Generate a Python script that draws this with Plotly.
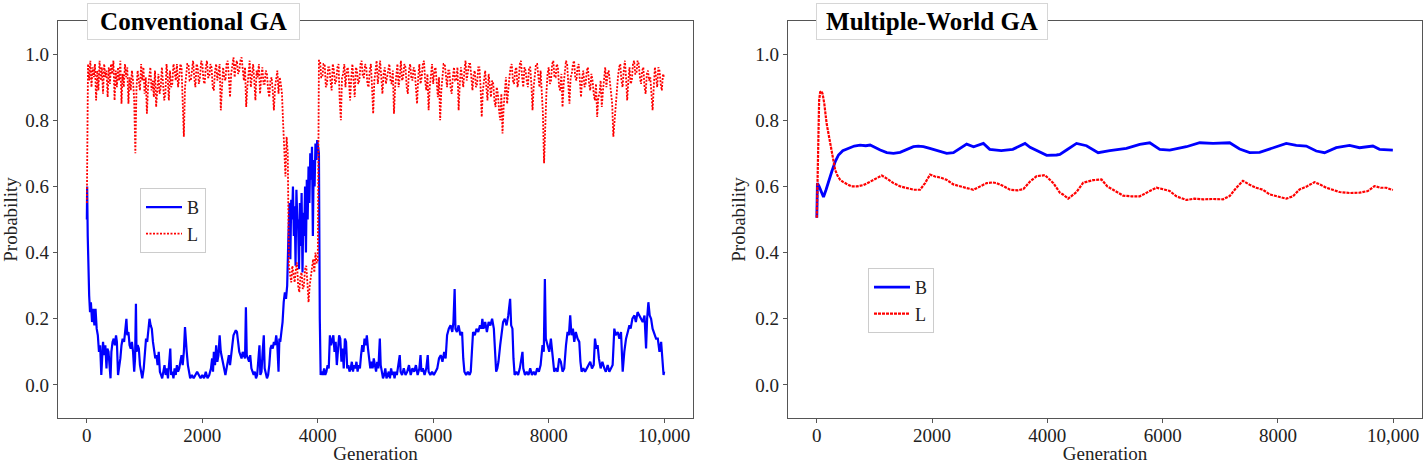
import plotly.graph_objects as go

# ---------------- data ----------------
# Conventional GA, B (generation, probability)
conv_B_pts = [
    (0, 0.50), (5, 0.60), (15, 0.45), (25, 0.32), (40, 0.27), (55, 0.22), (70, 0.25), (90, 0.19),
    (110, 0.23), (130, 0.18), (150, 0.23), (170, 0.17), (190, 0.15), (210, 0.10), (230, 0.12),
    (250, 0.03), (265, 0.08), (280, 0.13), (300, 0.09), (320, 0.12), (340, 0.05), (355, 0.11),
    (375, 0.10), (395, 0.03), (410, 0.02), (425, 0.10), (445, 0.13), (465, 0.14), (485, 0.12),
    (505, 0.15), (520, 0.13), (540, 0.03), (560, 0.05), (580, 0.08), (600, 0.12), (620, 0.14),
    (645, 0.13), (665, 0.17), (685, 0.20), (700, 0.15), (720, 0.16), (740, 0.12), (760, 0.11),
    (780, 0.13), (800, 0.10), (820, 0.04), (835, 0.08), (850, 0.245), (860, 0.10), (880, 0.12),
    (900, 0.11), (920, 0.06), (940, 0.04), (960, 0.02), (985, 0.05), (1005, 0.10), (1025, 0.14),
    (1045, 0.13), (1065, 0.18), (1085, 0.20), (1105, 0.18), (1125, 0.17), (1145, 0.13),
    (1165, 0.11), (1185, 0.08), (1205, 0.09), (1225, 0.06), (1245, 0.10), (1265, 0.04),
    (1285, 0.03), (1305, 0.02), (1325, 0.04), (1345, 0.06), (1365, 0.03), (1385, 0.05),
    (1405, 0.02), (1425, 0.08), (1445, 0.11), (1460, 0.03), (1480, 0.04), (1500, 0.02),
    (1520, 0.05), (1540, 0.03), (1560, 0.06), (1580, 0.04), (1600, 0.05), (1620, 0.07),
    (1640, 0.09), (1660, 0.06), (1680, 0.10), (1700, 0.175), (1715, 0.12), (1730, 0.10),
    (1750, 0.06), (1770, 0.04), (1790, 0.02), (1820, 0.03), (1850, 0.02), (1880, 0.03),
    (1910, 0.04), (1940, 0.03), (1970, 0.02), (2000, 0.03), (2030, 0.02), (2060, 0.04),
    (2090, 0.02), (2120, 0.03), (2150, 0.05), (2170, 0.08), (2185, 0.04), (2200, 0.10),
    (2220, 0.06), (2240, 0.12), (2260, 0.07), (2280, 0.09), (2300, 0.15), (2320, 0.10),
    (2340, 0.08), (2360, 0.06), (2380, 0.04), (2400, 0.03), (2420, 0.05), (2440, 0.07),
    (2460, 0.09), (2480, 0.06), (2500, 0.10), (2520, 0.12), (2540, 0.15), (2560, 0.16),
    (2580, 0.165), (2600, 0.16), (2620, 0.13), (2640, 0.10), (2660, 0.09), (2680, 0.08),
    (2700, 0.10), (2720, 0.09), (2740, 0.08), (2755, 0.235), (2770, 0.09), (2790, 0.08),
    (2810, 0.07), (2830, 0.09), (2850, 0.05), (2870, 0.04), (2890, 0.03), (2910, 0.04),
    (2930, 0.02), (2950, 0.03), (2970, 0.08), (2990, 0.12), (3005, 0.03), (3025, 0.04),
    (3045, 0.10), (3065, 0.15), (3080, 0.05), (3100, 0.03), (3120, 0.02), (3140, 0.03),
    (3160, 0.06), (3180, 0.11), (3200, 0.12), (3220, 0.11), (3240, 0.13), (3260, 0.12),
    (3280, 0.15), (3300, 0.12), (3320, 0.04), (3335, 0.14), (3350, 0.13), (3370, 0.16),
    (3390, 0.19), (3410, 0.25), (3430, 0.28), (3450, 0.26), (3470, 0.30), (3490, 0.44),
    (3510, 0.55), (3525, 0.38), (3540, 0.56), (3555, 0.50), (3570, 0.60), (3585, 0.45),
    (3600, 0.54), (3615, 0.36), (3630, 0.59), (3645, 0.50), (3660, 0.48), (3675, 0.35),
    (3690, 0.55), (3705, 0.42), (3720, 0.58), (3735, 0.34), (3750, 0.52), (3765, 0.45),
    (3780, 0.60), (3795, 0.40), (3810, 0.62), (3825, 0.50), (3840, 0.66), (3855, 0.55),
    (3870, 0.70), (3885, 0.62), (3900, 0.72), (3915, 0.45), (3930, 0.68), (3945, 0.60),
    (3960, 0.73), (3975, 0.68), (3990, 0.74), (4005, 0.72), (4020, 0.70), (4035, 0.20),
    (4050, 0.03), (4070, 0.04), (4090, 0.03), (4110, 0.05), (4130, 0.03), (4150, 0.04),
    (4170, 0.06), (4190, 0.05), (4210, 0.15), (4230, 0.12), (4250, 0.14), (4270, 0.15),
    (4290, 0.10), (4310, 0.13), (4330, 0.06), (4350, 0.12), (4370, 0.15), (4390, 0.14),
    (4410, 0.07), (4430, 0.11), (4450, 0.05), (4470, 0.14), (4490, 0.13), (4510, 0.05),
    (4530, 0.06), (4550, 0.04), (4570, 0.05), (4590, 0.07), (4610, 0.04), (4630, 0.06),
    (4650, 0.05), (4670, 0.07), (4690, 0.04), (4710, 0.06), (4730, 0.05), (4750, 0.09),
    (4770, 0.12), (4790, 0.10), (4810, 0.14), (4830, 0.12), (4850, 0.15), (4870, 0.11),
    (4890, 0.08), (4910, 0.05), (4930, 0.07), (4950, 0.05), (4970, 0.08), (4990, 0.06),
    (5010, 0.04), (5030, 0.07), (5050, 0.05), (5075, 0.14), (5090, 0.06), (5110, 0.04),
    (5130, 0.02), (5150, 0.03), (5170, 0.05), (5190, 0.02), (5210, 0.03), (5230, 0.04),
    (5250, 0.02), (5270, 0.05), (5290, 0.03), (5310, 0.04), (5330, 0.02), (5350, 0.04),
    (5370, 0.03), (5390, 0.05), (5420, 0.09), (5435, 0.04), (5460, 0.03), (5490, 0.05),
    (5520, 0.03), (5550, 0.04), (5580, 0.06), (5610, 0.03), (5640, 0.05), (5670, 0.04),
    (5700, 0.06), (5730, 0.03), (5760, 0.05), (5780, 0.09), (5795, 0.04), (5820, 0.05),
    (5850, 0.03), (5880, 0.05), (5905, 0.09), (5920, 0.04), (5950, 0.03), (5980, 0.04),
    (6010, 0.03), (6040, 0.04), (6070, 0.05), (6100, 0.08), (6130, 0.09), (6160, 0.07),
    (6190, 0.10), (6215, 0.08), (6240, 0.15), (6270, 0.17), (6300, 0.18), (6330, 0.16),
    (6350, 0.19), (6371, 0.29), (6385, 0.17), (6410, 0.16), (6440, 0.18), (6470, 0.15),
    (6500, 0.16), (6520, 0.08), (6540, 0.04), (6570, 0.03), (6600, 0.04), (6630, 0.03),
    (6650, 0.04), (6670, 0.10), (6690, 0.16), (6720, 0.15), (6750, 0.17), (6780, 0.16),
    (6810, 0.18), (6835, 0.17), (6851, 0.20), (6870, 0.17), (6900, 0.19), (6930, 0.16),
    (6960, 0.19), (6990, 0.18), (7020, 0.20), (7050, 0.17), (7070, 0.08), (7090, 0.04),
    (7110, 0.05), (7130, 0.07), (7160, 0.12), (7190, 0.17), (7210, 0.19), (7240, 0.20),
    (7270, 0.18), (7300, 0.21), (7332, 0.26), (7350, 0.18), (7372, 0.17), (7390, 0.08),
    (7410, 0.03), (7440, 0.04), (7470, 0.03), (7500, 0.05), (7520, 0.08), (7546, 0.10),
    (7560, 0.05), (7590, 0.03), (7620, 0.04), (7650, 0.03), (7680, 0.05), (7710, 0.03),
    (7740, 0.04), (7770, 0.03), (7800, 0.05), (7830, 0.04), (7860, 0.06), (7893, 0.12),
    (7915, 0.10), (7934, 0.32), (7950, 0.14), (7980, 0.12), (8010, 0.10), (8038, 0.14),
    (8067, 0.08), (8096, 0.04), (8125, 0.05), (8154, 0.04), (8182, 0.08), (8211, 0.07),
    (8240, 0.04), (8269, 0.05), (8300, 0.12), (8327, 0.16), (8350, 0.15), (8373, 0.21),
    (8395, 0.15), (8420, 0.17), (8443, 0.13), (8470, 0.16), (8500, 0.14), (8530, 0.13),
    (8550, 0.07), (8570, 0.04), (8600, 0.05), (8630, 0.04), (8660, 0.05), (8690, 0.06),
    (8720, 0.07), (8750, 0.05), (8780, 0.06), (8802, 0.14), (8825, 0.11), (8848, 0.12),
    (8870, 0.08), (8900, 0.05), (8930, 0.07), (8964, 0.05), (8990, 0.04), (9022, 0.06),
    (9050, 0.04), (9080, 0.05), (9108, 0.06), (9137, 0.17), (9160, 0.15), (9195, 0.16),
    (9225, 0.14), (9253, 0.16), (9270, 0.08), (9282, 0.04), (9310, 0.10), (9340, 0.14),
    (9370, 0.16), (9398, 0.18), (9420, 0.17), (9450, 0.20), (9485, 0.21), (9510, 0.19),
    (9540, 0.22), (9571, 0.21), (9600, 0.20), (9629, 0.19), (9660, 0.21), (9687, 0.11),
    (9705, 0.20), (9727, 0.25), (9750, 0.21), (9774, 0.20), (9800, 0.17), (9832, 0.15),
    (9860, 0.14), (9890, 0.14), (9919, 0.10), (9948, 0.13), (9976, 0.05), (9990, 0.03),
    (10000, 0.04),
]

# Conventional GA, L, sampled every 20 generations (one row = 200 generations)
conv_L_gen = list(range(0, 10001, 20))
conv_L = [
    0.55, 0.97, 0.92, 0.98, 0.90, 0.96, 0.93, 0.97, 0.86, 0.95,
    0.89, 0.98, 0.92, 0.96, 0.88, 0.97, 0.93, 0.95, 0.87, 0.96,
    0.91, 0.97, 0.94, 0.98, 0.86, 0.95, 0.90, 0.96, 0.92, 0.98,
    0.85, 0.94, 0.90, 0.97, 0.93, 0.96, 0.85, 0.93, 0.89, 0.95,
    0.92, 0.86, 0.70, 0.90, 0.95, 0.91, 0.89, 0.97, 0.92, 0.96,
    0.88, 0.93, 0.82, 0.90, 0.93, 0.96, 0.89, 0.92, 0.87, 0.95,
    0.84, 0.90, 0.94, 0.88, 0.90, 0.96, 0.92, 0.86, 0.88, 0.97,
    0.93, 0.86, 0.95, 0.90, 0.91, 0.97, 0.95, 0.92, 0.97, 0.90,
    0.93, 0.97, 0.96, 0.88, 0.75, 0.90, 0.94, 0.97, 0.97, 0.92,
    0.92, 0.96, 0.98, 0.93, 0.90, 0.97, 0.96, 0.91, 0.93, 0.98,
    0.97, 0.92, 0.91, 0.96, 0.98, 0.93, 0.93, 0.97, 0.96, 0.90,
    0.89, 0.95, 0.97, 0.92, 0.94, 0.97, 0.83, 0.90, 0.96, 0.93,
    0.92, 0.97, 0.98, 0.93, 0.87, 0.94, 0.96, 0.99, 0.93, 0.97,
    0.98, 0.94, 0.95, 0.98, 0.99, 0.95, 0.92, 0.96, 0.84, 0.90,
    0.95, 0.98, 0.90, 0.93, 0.97, 0.92, 0.86, 0.95, 0.93, 0.97,
    0.88, 0.93, 0.96, 0.91, 0.91, 0.95, 0.94, 0.89, 0.87, 0.92,
    0.93, 0.89, 0.83, 0.90, 0.92, 0.95, 0.88, 0.93, 0.91, 0.88,
    0.79, 0.72, 0.63, 0.75, 0.70, 0.36, 0.34, 0.31, 0.36, 0.33,
    0.31, 0.35, 0.37, 0.30, 0.28, 0.33, 0.34, 0.29, 0.30, 0.35,
    0.36, 0.31, 0.25, 0.30, 0.33, 0.36, 0.38, 0.34, 0.40, 0.37,
    0.37, 0.98, 0.98, 0.93, 0.93, 0.97, 0.97, 0.90, 0.91, 0.96,
    0.96, 0.92, 0.89, 0.97, 0.95, 0.91, 0.92, 0.96, 0.97, 0.86,
    0.80, 0.93, 0.94, 0.97, 0.90, 0.95, 0.96, 0.92, 0.86, 0.93,
    0.97, 0.92, 0.87, 0.96, 0.95, 0.91, 0.92, 0.97, 0.98, 0.93,
    0.93, 0.97, 0.96, 0.91, 0.90, 0.95, 0.97, 0.90, 0.82, 0.92,
    0.95, 0.98, 0.91, 0.94, 0.98, 0.93, 0.88, 0.94, 0.96, 0.91,
    0.93, 0.96, 0.97, 0.92, 0.91, 0.95, 0.82, 0.90, 0.95, 0.97,
    0.90, 0.93, 0.98, 0.92, 0.93, 0.97, 0.96, 0.90, 0.88, 0.95,
    0.97, 0.93, 0.92, 0.96, 0.95, 0.89, 0.85, 0.93, 0.97, 0.91,
    0.93, 0.97, 0.98, 0.92, 0.89, 0.94, 0.83, 0.90, 0.95, 0.97,
    0.91, 0.95, 0.96, 0.90, 0.87, 0.93, 0.80, 0.89, 0.93, 0.97,
    0.97, 0.92, 0.90, 0.95, 0.95, 0.90, 0.88, 0.93, 0.96, 0.92,
    0.92, 0.96, 0.83, 0.91, 0.96, 0.93, 0.90, 0.95, 0.98, 0.92,
    0.94, 0.97, 0.97, 0.92, 0.89, 0.94, 0.95, 0.90, 0.91, 0.96,
    0.96, 0.90, 0.81, 0.89, 0.93, 0.95, 0.90, 0.86, 0.94, 0.90,
    0.87, 0.92, 0.91, 0.86, 0.84, 0.90, 0.88, 0.83, 0.80, 0.88,
    0.76, 0.84, 0.89, 0.93, 0.85, 0.90, 0.93, 0.96, 0.97, 0.92,
    0.91, 0.95, 0.96, 0.90, 0.92, 0.97, 0.98, 0.93, 0.90, 0.96,
    0.95, 0.92, 0.90, 0.96, 0.96, 0.91, 0.83, 0.90, 0.94, 0.97,
    0.97, 0.92, 0.90, 0.95, 0.86, 0.82, 0.67, 0.80, 0.88, 0.94,
    0.96, 0.91, 0.92, 0.97, 0.98, 0.93, 0.93, 0.97, 0.96, 0.90,
    0.89, 0.94, 0.84, 0.91, 0.95, 0.98, 0.97, 0.92, 0.85, 0.93,
    0.94, 0.97, 0.98, 0.93, 0.92, 0.96, 0.97, 0.92, 0.87, 0.93,
    0.95, 0.90, 0.91, 0.95, 0.96, 0.91, 0.89, 0.94, 0.92, 0.88,
    0.86, 0.91, 0.81, 0.87, 0.88, 0.92, 0.84, 0.89, 0.93, 0.96,
    0.90, 0.94, 0.95, 0.91, 0.89, 0.85, 0.75, 0.80, 0.82, 0.90,
    0.93, 0.96, 0.97, 0.92, 0.90, 0.95, 0.98, 0.93, 0.86, 0.92,
    0.96, 0.91, 0.92, 0.97, 0.98, 0.94, 0.94, 0.98, 0.97, 0.93,
    0.91, 0.95, 0.96, 0.90, 0.88, 0.94, 0.95, 0.92, 0.93, 0.88,
    0.83, 0.90, 0.96, 0.93, 0.90, 0.96, 0.95, 0.91, 0.89, 0.94,
    0.93,
]

# Multiple-World GA, B
mw_B_pts = [
    (0, 0.505), (10, 0.61), (40, 0.60), (80, 0.58), (116, 0.568), (160, 0.59), (200, 0.615),
    (260, 0.645), (320, 0.675), (376, 0.695), (450, 0.708), (549, 0.716), (650, 0.722),
    (750, 0.725), (850, 0.723), (925, 0.725), (1000, 0.718), (1100, 0.71), (1214, 0.702),
    (1330, 0.70), (1445, 0.703), (1560, 0.712), (1676, 0.72), (1760, 0.722), (1850, 0.72),
    (1960, 0.715), (2100, 0.708), (2254, 0.70), (2370, 0.702), (2480, 0.715), (2600, 0.728),
    (2720, 0.72), (2890, 0.73), (3000, 0.712), (3200, 0.708), (3400, 0.712), (3520, 0.722),
    (3612, 0.73), (3700, 0.718), (3850, 0.705), (3988, 0.694), (4160, 0.695), (4217, 0.697),
    (4333, 0.71), (4506, 0.73), (4679, 0.723), (4881, 0.702), (5083, 0.708), (5372, 0.715),
    (5603, 0.727), (5777, 0.732), (5950, 0.712), (6123, 0.71), (6412, 0.72), (6643, 0.732),
    (6874, 0.73), (7163, 0.732), (7336, 0.713), (7510, 0.702), (7683, 0.703), (7914, 0.717),
    (8145, 0.73), (8319, 0.724), (8492, 0.722), (8665, 0.707), (8809, 0.702), (9012, 0.717),
    (9243, 0.724), (9416, 0.717), (9647, 0.722), (9763, 0.712), (9994, 0.710),
]

# Multiple-World GA, L
mw_L_pts = [
    (0, 0.505), (20, 0.75), (40, 0.86), (58, 0.885), (80, 0.888), (100, 0.88), (130, 0.85),
    (170, 0.79), (231, 0.733), (280, 0.685), (318, 0.65), (360, 0.632), (405, 0.62),
    (460, 0.613), (520, 0.608), (600, 0.60), (694, 0.60), (809, 0.604), (900, 0.612),
    (983, 0.62), (1127, 0.633), (1230, 0.622), (1329, 0.61), (1450, 0.60), (1561, 0.596),
    (1680, 0.59), (1792, 0.59), (1878, 0.61), (1965, 0.636), (2050, 0.63), (2139, 0.627),
    (2250, 0.62), (2370, 0.606), (2480, 0.60), (2600, 0.595), (2717, 0.59), (2830, 0.60),
    (2948, 0.61), (3050, 0.612), (3121, 0.61), (3250, 0.60), (3352, 0.59), (3480, 0.588),
    (3584, 0.592), (3700, 0.615), (3815, 0.631), (3960, 0.634), (4104, 0.61), (4217, 0.581),
    (4277, 0.575), (4361, 0.563), (4506, 0.583), (4621, 0.611), (4795, 0.619), (4939, 0.621),
    (5040, 0.60), (5141, 0.59), (5315, 0.572), (5460, 0.57), (5603, 0.570), (5777, 0.586),
    (5892, 0.596), (6000, 0.592), (6123, 0.586), (6239, 0.57), (6412, 0.559), (6550, 0.563),
    (6701, 0.561), (6870, 0.562), (7048, 0.561), (7163, 0.571), (7279, 0.596), (7394, 0.617),
    (7510, 0.605), (7625, 0.596), (7740, 0.59), (7856, 0.576), (8000, 0.57), (8145, 0.563),
    (8260, 0.57), (8376, 0.591), (8500, 0.60), (8636, 0.613), (8740, 0.605), (8838, 0.596),
    (8950, 0.59), (9069, 0.583), (9250, 0.58), (9416, 0.581), (9560, 0.586), (9676, 0.601),
    (9780, 0.596), (9878, 0.596), (9994, 0.589),
]

titles = ["Conventional GA", "Multiple-World GA"]
x_tickvals = [0, 2000, 4000, 6000, 8000, 10000]
x_ticktext = ["0", "2000", "4000", "6000", "8000", "10,000"]
y_tickvals = [0.0, 0.2, 0.4, 0.6, 0.8, 1.0]

conv_B_gen = [p[0] for p in conv_B_pts]
conv_B = [p[1] for p in conv_B_pts]
mw_B_gen = [p[0] for p in mw_B_pts]
mw_B = [p[1] for p in mw_B_pts]
mw_L_gen = [p[0] for p in mw_L_pts]
mw_L = [p[1] for p in mw_L_pts]

# ---------------- figure ----------------
FONT = "Liberation Serif, Times New Roman, serif"
BLUE = "#0000ff"
RED = "#ff0000"
AX = "#555555"
W, H = 1426, 464

fig = go.Figure()
fig.add_trace(go.Scatter(x=conv_B_gen, y=conv_B, mode="lines", name="B",
                         line=dict(color=BLUE, width=2.2), xaxis="x", yaxis="y", legend="legend"))
fig.add_trace(go.Scatter(x=conv_L_gen, y=conv_L, mode="lines", name="L",
                         line=dict(color=RED, width=1.8, dash="2px,1.5px"), xaxis="x", yaxis="y", legend="legend"))
fig.add_trace(go.Scatter(x=mw_B_gen, y=mw_B, mode="lines", name="B",
                         line=dict(color=BLUE, width=2.8), xaxis="x2", yaxis="y2", legend="legend2"))
fig.add_trace(go.Scatter(x=mw_L_gen, y=mw_L, mode="lines", name="L",
                         line=dict(color=RED, width=2.2, dash="3px,1px"), xaxis="x2", yaxis="y2", legend="legend2"))

ydom = [1 - 418 / H, 1 - 21 / H]
common_x = dict(range=[-500, 10500], tickvals=x_tickvals, ticktext=x_ticktext,
                showline=True, mirror=True, linecolor=AX, linewidth=1.2,
                ticks="outside", ticklen=4, tickcolor=AX, showgrid=False, zeroline=False,
                ticklabelstandoff=-4,
                tickfont=dict(family=FONT, size=19, color="#222"),
                title=dict(text="Generation", font=dict(family=FONT, size=19, color="#222"), standoff=6),
                automargin=False)
common_y = dict(range=[-0.1, 1.1], tickvals=y_tickvals, tickformat=".1f",
                showline=True, mirror=True, linecolor=AX, linewidth=1.2,
                ticks="outside", ticklen=4, tickcolor=AX, showgrid=False, zeroline=False,
                tickfont=dict(family=FONT, size=19, color="#222"),
                title=dict(text="Probability", font=dict(family=FONT, size=19, color="#222"), standoff=4),
                automargin=False)

legend_common = dict(font=dict(family=FONT, size=18, color="#222"), bgcolor="white",
                     bordercolor="#cccccc", borderwidth=1, xanchor="left", yanchor="top",
                     tracegroupgap=0, itemwidth=36)

fig.update_layout(
    width=W, height=H,
    margin=dict(l=0, r=0, t=0, b=0),
    paper_bgcolor="white", plot_bgcolor="white",
    xaxis=dict(domain=[58 / W, 693 / W], anchor="y", **common_x),
    yaxis=dict(domain=ydom, anchor="x", **common_y),
    xaxis2=dict(domain=[788 / W, 1422 / W], anchor="y2", **common_x),
    yaxis2=dict(domain=ydom, anchor="x2", **common_y),
    legend=dict(x=140 / W, y=1 - 188 / H, **legend_common),
    legend2=dict(x=868 / W, y=1 - 268 / H, **legend_common),
    showlegend=True,
)

title_boxes = [(193.5, 209), (932, 228)]
for (cx, bw), t in zip(title_boxes, titles):
    fig.add_annotation(xref="paper", yref="paper", x=cx / W, y=1 - 21.5 / H,
                       xanchor="center", yanchor="middle", showarrow=False,
                       text="<b>" + t + "</b>", font=dict(family=FONT, size=25, color="black"),
                       bgcolor="white", bordercolor="#d6d6d6", borderwidth=1, borderpad=1,
                       width=bw, height=33)

fig.write_html("out.html", config={"displayModeBar": False},
               post_script="document.body.style.margin='0px';document.body.style.overflow='hidden';")
